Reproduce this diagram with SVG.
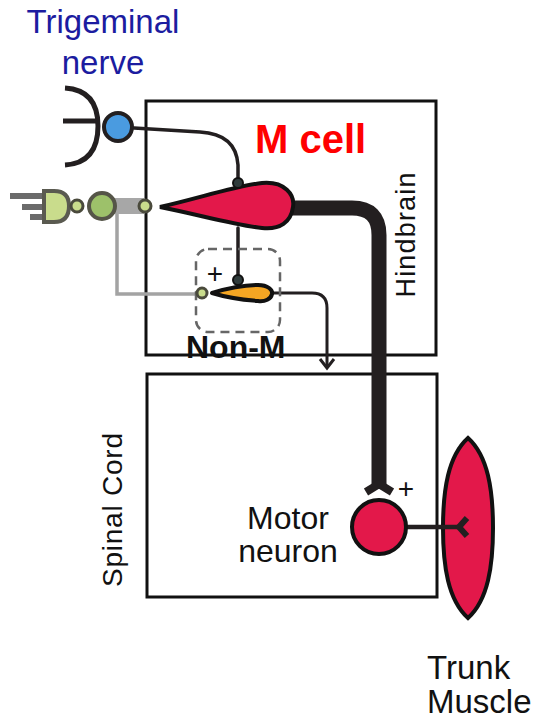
<svg xmlns="http://www.w3.org/2000/svg" width="535" height="721" viewBox="0 0 535 721">
  <style>
    .lbl { font-family: "Liberation Sans", Arial, sans-serif; fill: #111; }
    .box { fill: none; stroke: #111; stroke-width: 3; }
    .wire { fill: none; stroke: #231f20; stroke-width: 3.5; stroke-linecap: round; }
    .cellred { fill: #e3184a; stroke: #111; stroke-width: 4; }
    .term { fill: #2f3b3b; stroke: #111; stroke-width: 2; }
    .green-s { fill: #c9dc8c; stroke: #4a4a3c; stroke-width: 3; }
  </style>
  <rect width="535" height="721" fill="#ffffff"/>

  <!-- compartments -->
  <g id="hindbrain">
    <rect class="box" x="146" y="101" width="290" height="254"/>
    <text class="lbl" transform="translate(415 235) rotate(-90)" font-size="27" text-anchor="middle" textLength="125">Hindbrain</text>
  </g>
  <g id="spinal-cord">
    <rect class="box" x="147" y="374" width="290" height="223"/>
    <text class="lbl" transform="translate(122 510) rotate(-90)" font-size="28" text-anchor="middle" textLength="154">Spinal Cord</text>
  </g>

  <!-- trunk muscle -->
  <g id="trunk-muscle">
    <path class="cellred" d="M468 438 C488 456 493 490 493 528 C493 566 488 600 468 618 C448 600 443 566 443 528 C443 490 448 456 468 438 Z"/>
    <text class="lbl" x="427" y="679" font-size="33">Trunk</text>
    <text class="lbl" x="427" y="713" font-size="33">Muscle</text>
  </g>

  <!-- connectors -->
  <g id="connectors">
    <!-- trigeminal input onto M cell -->
    <path class="wire" d="M134 128 L200 132 Q236 134 238 165 L238 178"/>
    <!-- M cell collateral to Non-M -->
    <path class="wire" d="M238 228 L238 276"/>
    <!-- gray sensory branch to Non-M -->
    <path d="M117 212 L117 294 L198 294" fill="none" stroke="#a3a3a3" stroke-width="3.5"/>
    <!-- Non-M output -->
    <path d="M272 293 L312 293 Q327 293 327 308 L327 367" fill="none" stroke="#231f20" stroke-width="3"/>
    <path d="M320 359 L327 368 L334 359" fill="none" stroke="#231f20" stroke-width="3"/>
    <!-- M cell axon -->
    <path d="M290 208 L352 208 Q379 208 379 235 L379 484" fill="none" stroke="#231f20" stroke-width="15"/>
    <path d="M366 492 L379 484 L392 492" fill="none" stroke="#231f20" stroke-width="8" stroke-linejoin="round"/>
    <!-- motor neuron to muscle -->
    <path d="M406 527 L460 527" fill="none" stroke="#231f20" stroke-width="4.5"/>
    <path d="M467 518 L459 527 L467 536" fill="none" stroke="#231f20" stroke-width="6" stroke-linejoin="round"/>
  </g>

  <!-- trigeminal nerve -->
  <g id="trigeminal">
    <text x="103" y="33" font-family="Liberation Sans, Arial, sans-serif" font-size="33" fill="#1c1ca0" text-anchor="middle">Trigeminal</text>
    <text x="103" y="74" font-family="Liberation Sans, Arial, sans-serif" font-size="33" fill="#1c1ca0" text-anchor="middle">nerve</text>
    <path d="M65 88 Q98 90 98 126 Q98 163 65 165" fill="none" stroke="#231f20" stroke-width="5"/>
    <path d="M63 121 L100 121" fill="none" stroke="#231f20" stroke-width="5"/>
    <circle cx="118" cy="127" r="14" fill="#4a9be0" stroke="#231f20" stroke-width="4"/>
  </g>

  <!-- lateral line / sensory input -->
  <g id="sensory-input">
    <path d="M10 196 L45 196 M22 207 L45 207 M30 217 L45 217" fill="none" stroke="#6b6b6b" stroke-width="6"/>
    <path d="M44 191 L54 191 Q69 191 69 206 Q69 222 54 222 L44 222 Z" fill="#c9dc8c" stroke="#5a5a50" stroke-width="4"/>
    <rect x="112" y="198" width="33" height="16" fill="#a7a7a7"/>
    <circle class="green-s" cx="77" cy="206" r="6"/>
    <circle cx="102" cy="206" r="13" fill="#9dc16a" stroke="#555548" stroke-width="4"/>
    <circle class="green-s" cx="145" cy="206" r="6"/>
  </g>

  <!-- Mauthner cell -->
  <g id="m-cell">
    <path class="cellred" stroke-width="3.5" d="M160 207 C200 198 235 186 262 183 C285 181 295 195 293 207 C291 222 280 230 262 228 C235 225 200 215 160 207 Z"/>
    <circle class="term" cx="238" cy="183" r="5"/>
    <text x="255" y="153" font-family="Liberation Sans, Arial, sans-serif" font-size="40" font-weight="bold" fill="#ff0000">M cell</text>
  </g>

  <!-- Non-M neuron -->
  <g id="non-m">
    <rect x="196" y="249" width="84" height="83" rx="12" fill="none" stroke="#666" stroke-width="2.5" stroke-dasharray="9 6"/>
    <path d="M212 293 C225 289 245 285 258 285 C268 285 273 290 272 294 C271 299 265 302 258 301 C245 300 225 297 212 293 Z" fill="#f5a623" stroke="#111" stroke-width="4" stroke-linejoin="round"/>
    <circle class="term" cx="238" cy="280" r="5"/>
    <circle class="green-s" cx="202" cy="293" r="5" stroke-width="2.5"/>
    <text class="lbl" x="215" y="283" font-size="28" text-anchor="middle">+</text>
    <text class="lbl" x="186" y="358" font-size="32" font-weight="bold">Non-M</text>
  </g>

  <!-- motor neuron -->
  <g id="motor-neuron">
    <circle class="cellred" cx="379" cy="527" r="27"/>
    <text class="lbl" x="406" y="498" font-size="28" text-anchor="middle">+</text>
    <text class="lbl" x="288" y="529" font-size="32" text-anchor="middle">Motor</text>
    <text class="lbl" x="288" y="562" font-size="32" text-anchor="middle">neuron</text>
  </g>
</svg>
